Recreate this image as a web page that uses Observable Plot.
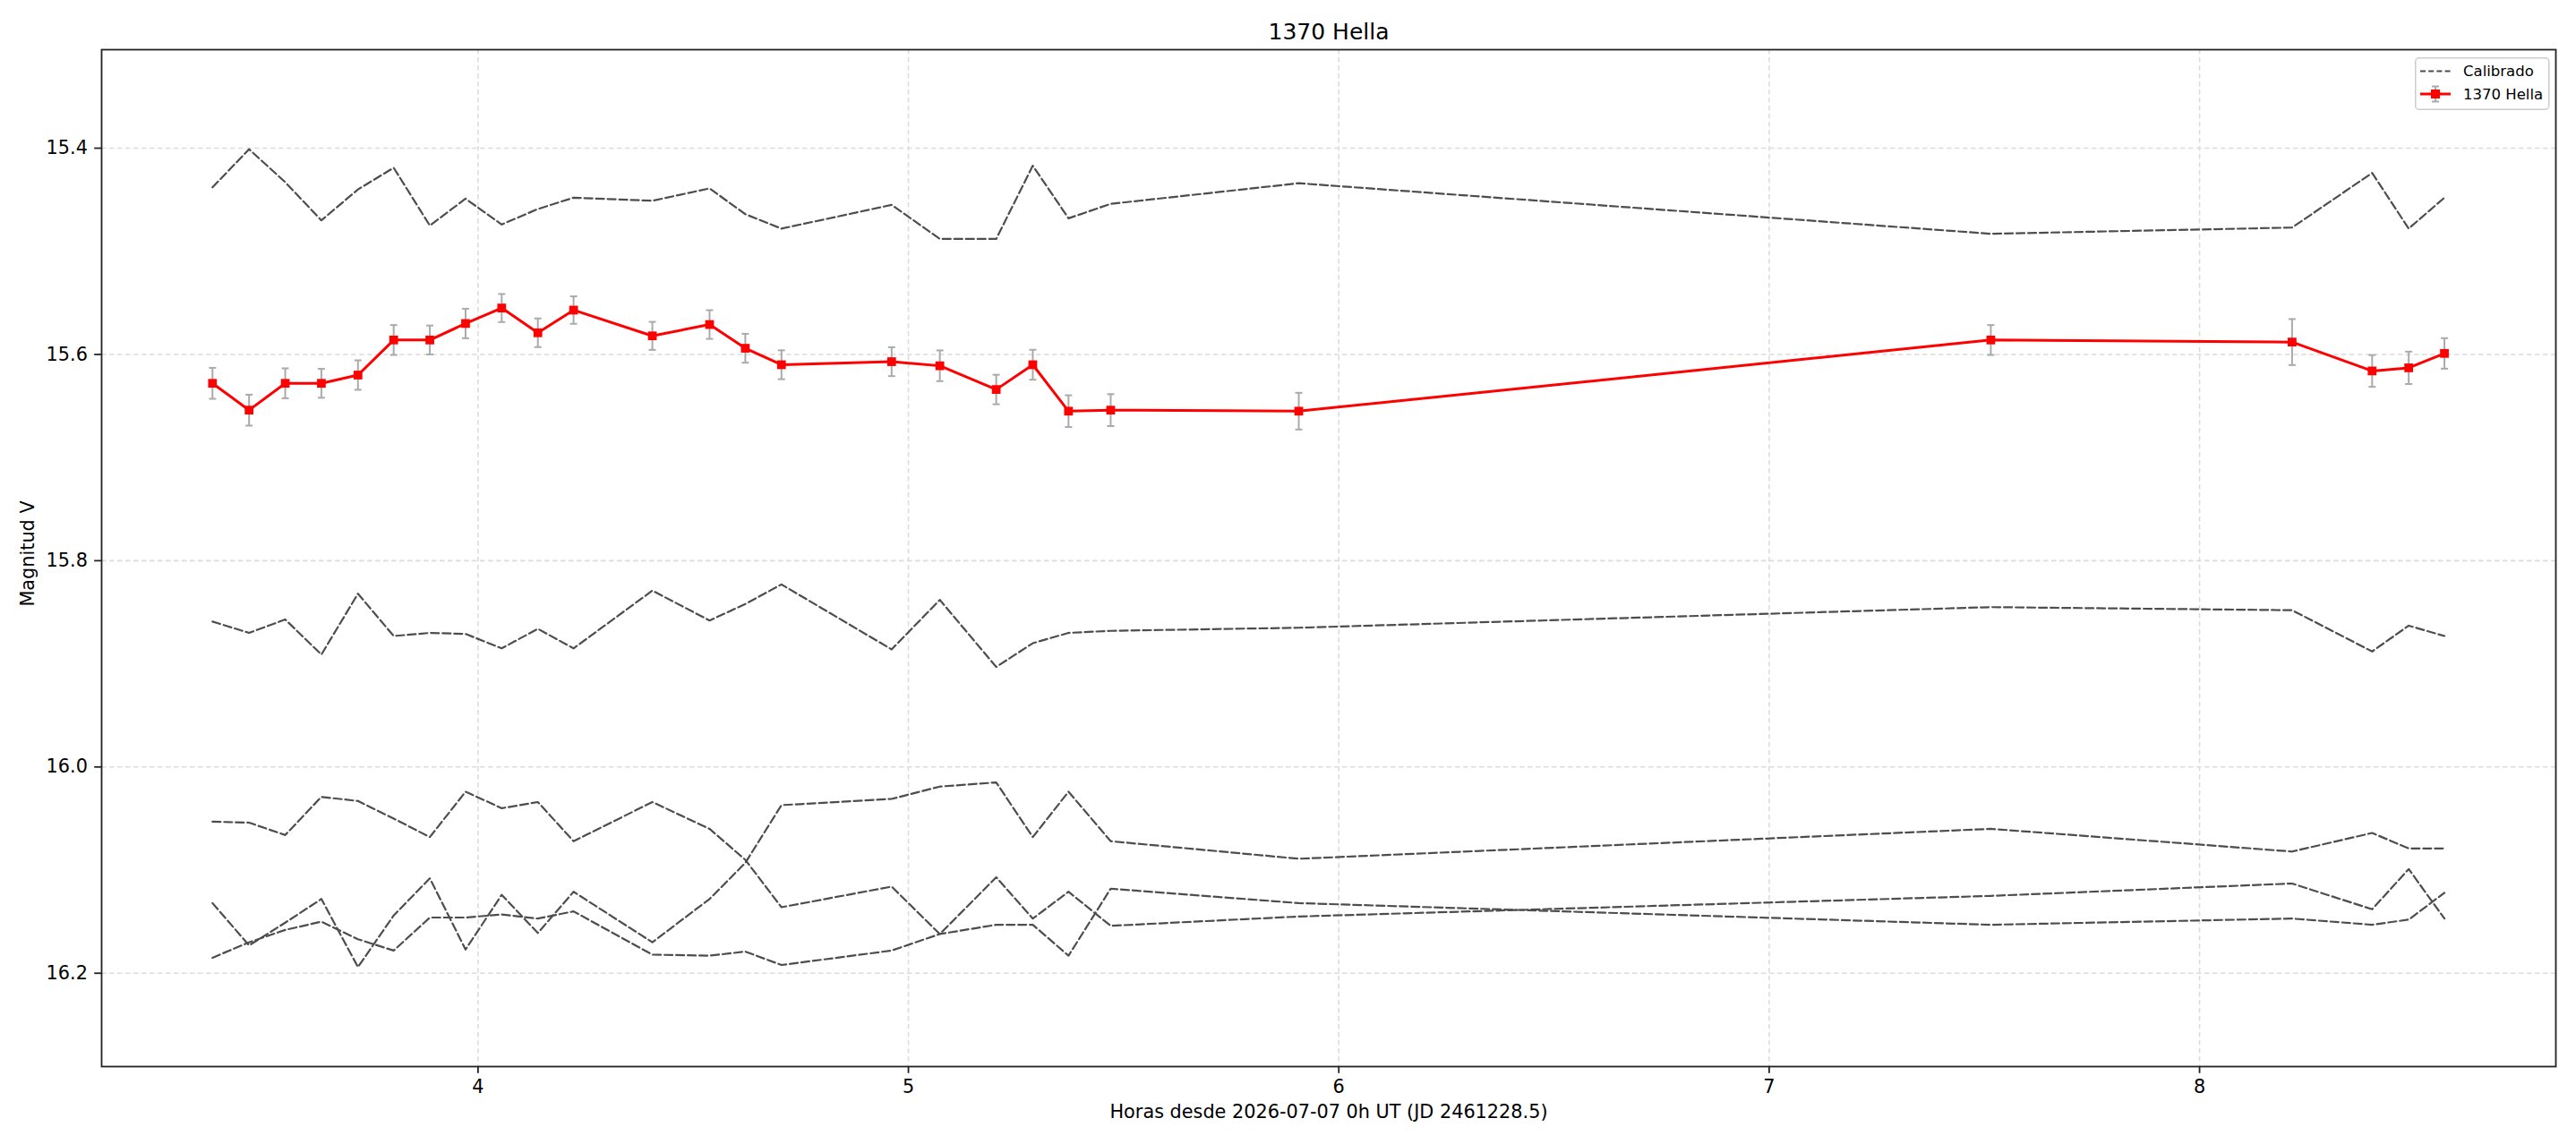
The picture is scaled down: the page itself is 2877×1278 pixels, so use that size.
<!DOCTYPE html>
<html>
<head>
<meta charset="utf-8">
<script src="https://cdn.jsdelivr.net/npm/d3@7"></script>
<script src="https://cdn.jsdelivr.net/npm/@observablehq/plot@0.6"></script>
<style>
  body { margin: 0; background: #fff; font-family: "DejaVu Sans", sans-serif; }
  #wrap { position: relative; width: 2877px; height: 1278px; }
  #legend { position: absolute; left: 2697px; top: 64px; }
</style>
</head>
<body>
<div id="wrap"></div>
<script>
// ---- Data ----
const title = "1370 Hella";
const xLabel = "Horas desde 2026-07-07 0h UT (JD 2461228.5)";
const yLabel = "Magnitud V";
const xTicks = [4, 5, 6, 7, 8];
const yTicks = [15.4, 15.6, 15.8, 16.0, 16.2];

const hours = [3.383, 3.468, 3.552, 3.636, 3.721, 3.804, 3.888, 3.971, 4.055, 4.139, 4.222, 4.405, 4.538, 4.621, 4.705,
               4.961, 5.073, 5.204, 5.289, 5.372, 5.470, 5.907, 7.515, 8.215, 8.401, 8.486, 8.569];

const hellaMag = [15.628, 15.654, 15.628, 15.628, 15.620, 15.586, 15.586, 15.570, 15.555, 15.579, 15.557, 15.582, 15.571, 15.594, 15.610,
                  15.607, 15.611, 15.634, 15.610, 15.655, 15.654, 15.655, 15.586, 15.588, 15.616, 15.613, 15.599];
const hellaErr = [0.015, 0.015, 0.0145, 0.014, 0.0143, 0.0145, 0.014, 0.0143, 0.0136, 0.0139, 0.0133, 0.0136, 0.0139, 0.014, 0.014,
                  0.014, 0.0149, 0.0143, 0.0145, 0.0154, 0.0155, 0.0178, 0.0145, 0.0223, 0.0154, 0.0157, 0.0148];

const cal1 = [15.438, 15.401, 15.433, 15.470, 15.440, 15.419, 15.475, 15.449, 15.474, 15.459, 15.448, 15.451, 15.439, 15.464, 15.478,
              15.455, 15.488, 15.488, 15.417, 15.468, 15.454, 15.434, 15.483, 15.477, 15.424, 15.478, 15.448];
const cal2 = [15.859, 15.870, 15.857, 15.891, 15.832, 15.873, 15.870, 15.871, 15.885, 15.866, 15.885, 15.829, 15.858, 15.842, 15.823,
              15.886, 15.838, 15.903, 15.880, 15.870, 15.868, 15.865, 15.845, 15.848, 15.888, 15.863, 15.873];
const cal3 = [16.132, 16.173, 16.151, 16.128, 16.194, 16.144, 16.108, 16.177, 16.124, 16.161, 16.121, 16.170, 16.128, 16.093, 16.037,
              16.031, 16.019, 16.015, 16.068, 16.024, 16.072, 16.089, 16.060, 16.082, 16.064, 16.079, 16.079];
const cal4 = [16.053, 16.054, 16.066, 16.029, 16.033, 16.050, 16.068, 16.024, 16.040, 16.034, 16.072, 16.034, 16.060, 16.090, 16.136,
              16.116, 16.162, 16.107, 16.147, 16.121, 16.154, 16.145, 16.125, 16.113, 16.138, 16.099, 16.147];
const cal5 = [16.185, 16.170, 16.158, 16.150, 16.167, 16.178, 16.146, 16.146, 16.143, 16.147, 16.140, 16.182, 16.183, 16.179, 16.192,
              16.178, 16.162, 16.153, 16.153, 16.183, 16.118, 16.132, 16.153, 16.147, 16.153, 16.148, 16.122];

// ---- Build tables ----
const cal = [cal1, cal2, cal3, cal4, cal5].flatMap((arr, k) => arr.map((m, i) => ({h: hours[i], m, s: "c" + k})));
const hella = hours.map((h, i) => ({h, m: hellaMag[i], e: hellaErr[i]}));

const capSym = {draw(ctx, size) { const w = Math.sqrt(size) / 2; ctx.moveTo(-w, 0); ctx.lineTo(w, 0); }};

const font = '"DejaVu Sans", sans-serif';
const fs = 20.8;
const plot = Plot.plot({
  width: 2877, height: 1278,
  marginLeft: 113, marginRight: 23, marginTop: 55, marginBottom: 87,
  style: {fontFamily: font, fontSize: fs + "px", color: "#000", background: "#fff"},
  x: {domain: [3.1254, 8.8279]},
  y: {domain: [15.3045, 16.2905], reverse: true},
  marks: [
    Plot.gridX(xTicks, {stroke: "#dcdcdc", strokeOpacity: 1, strokeWidth: 1.6, strokeDasharray: "5.5,3.5"}),
    Plot.gridY(yTicks, {stroke: "#dcdcdc", strokeOpacity: 1, strokeWidth: 1.6, strokeDasharray: "5.5,3.5"}),
    Plot.line(cal, {x: "h", y: "m", z: "s", stroke: "#4d4d4d", strokeWidth: 2.2, strokeDasharray: "9,4"}),
    Plot.ruleX(hella, {x: "h", y1: d => d.m - d.e, y2: d => d.m + d.e, stroke: "#aaaaaa", strokeWidth: 2}),
    Plot.dot(hella, {x: "h", y: d => d.m - d.e, symbol: capSym, r: 4.5, fill: "none", stroke: "#aaaaaa", strokeWidth: 2}),
    Plot.dot(hella, {x: "h", y: d => d.m + d.e, symbol: capSym, r: 4.5, fill: "none", stroke: "#aaaaaa", strokeWidth: 2}),
    Plot.line(hella, {x: "h", y: "m", stroke: "red", strokeWidth: 3}),
    Plot.dot(hella, {x: "h", y: "m", symbol: "square", r: 5.5, fill: "red", stroke: "none"}),
    Plot.frame({stroke: "#222", strokeWidth: 1.8}),
    Plot.axisX(xTicks, {tickSize: 7.8, tickPadding: 7, fontSize: fs, label: null, tickFormat: d => String(d), stroke: "#222", strokeWidth: 1.8}),
    Plot.axisY(yTicks, {tickSize: 7.8, tickPadding: 7.8, fontSize: fs, label: null, tickFormat: d => d.toFixed(1), stroke: "#222", strokeWidth: 1.8}),
    Plot.text([title], {text: d => d, frameAnchor: "top", lineAnchor: "middle", textAnchor: "middle", dy: -19.5, fontSize: 25, fill: "#000"}),
    Plot.text([yLabel], {text: d => d, frameAnchor: "left", lineAnchor: "middle", textAnchor: "middle", dx: -82, dy: -5, rotate: -90, fontSize: fs, fill: "#000"}),
    Plot.text([xLabel], {text: d => d, frameAnchor: "bottom", lineAnchor: "middle", textAnchor: "middle", dy: 51, fontSize: fs, fill: "#000"})
  ]
});
const wrap = document.getElementById("wrap");
wrap.appendChild(plot);

// ---- Legend ----
const legendItems = ["Calibrado", "1370 Hella"];
const legend = document.createElement("div");
legend.id = "legend";
legend.innerHTML = `
<svg width="151" height="60" xmlns="http://www.w3.org/2000/svg" style="font-family:${font.replace(/"/g, "'")}">
  <rect x="0.75" y="0.75" width="149" height="57.5" rx="4" ry="4" fill="#fff" fill-opacity="0.8" stroke="#cccccc" stroke-width="1.5"/>
  <line x1="6" y1="15.5" x2="40" y2="15.5" stroke="#4d4d4d" stroke-width="2.2" stroke-dasharray="6,3.2"/>
  <text x="54" y="15.5" dy="0.35em" font-size="16.5" fill="#000">${legendItems[0]}</text>
  <line x1="23" y1="32.5" x2="23" y2="49.5" stroke="#aaaaaa" stroke-width="2"/>
  <line x1="19" y1="32.5" x2="27" y2="32.5" stroke="#aaaaaa" stroke-width="2"/>
  <line x1="19" y1="49.5" x2="27" y2="49.5" stroke="#aaaaaa" stroke-width="2"/>
  <line x1="6" y1="41" x2="40" y2="41" stroke="red" stroke-width="3"/>
  <rect x="18" y="36" width="10" height="10" fill="red"/>
  <text x="54" y="41" dy="0.35em" font-size="16.5" fill="#000">${legendItems[1]}</text>
</svg>`;
wrap.appendChild(legend);
</script>
</body>
</html>
